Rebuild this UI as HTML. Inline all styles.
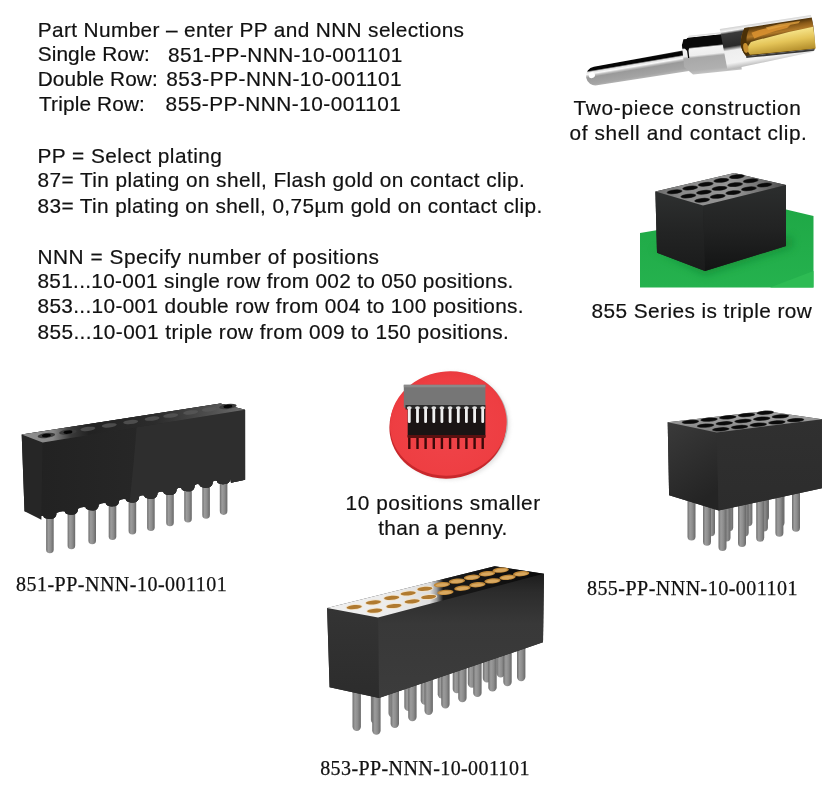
<!DOCTYPE html>
<html><head><meta charset="utf-8"><style>
html,body{margin:0;padding:0;background:#fff;}
svg{display:block;}
</style></head><body>
<svg width="840" height="788" viewBox="0 0 840 788">
<defs>
<linearGradient id="rodG" x1="0" y1="0" x2="0" y2="1">
<stop offset="0" stop-color="#3a3a3a"/><stop offset="0.06" stop-color="#050505"/>
<stop offset="0.2" stop-color="#050505"/><stop offset="0.27" stop-color="#e0e0e0"/>
<stop offset="0.36" stop-color="#fafafa"/><stop offset="0.44" stop-color="#c0c0c0"/>
<stop offset="0.52" stop-color="#9a9a9a"/><stop offset="0.85" stop-color="#a4a4a4"/>
<stop offset="1" stop-color="#b8b8b8"/></linearGradient>
<linearGradient id="colG" x1="0" y1="0" x2="0" y2="1">
<stop offset="0" stop-color="#d8d8d8"/><stop offset="0.04" stop-color="#eeeeee"/>
<stop offset="0.06" stop-color="#0a0a0a"/><stop offset="0.3" stop-color="#0a0a0a"/>
<stop offset="0.34" stop-color="#f4f4f4"/><stop offset="0.52" stop-color="#eeeeee"/>
<stop offset="0.58" stop-color="#a8a8a8"/><stop offset="0.9" stop-color="#b0b0b0"/>
<stop offset="1" stop-color="#c4c4c4"/></linearGradient>
<linearGradient id="shellG" x1="0" y1="0" x2="0" y2="1">
<stop offset="0" stop-color="#d0d0d0"/><stop offset="0.08" stop-color="#f2f2f2"/>
<stop offset="0.14" stop-color="#3a3a3a"/><stop offset="0.45" stop-color="#2a2a2a"/>
<stop offset="0.55" stop-color="#eeeeee"/><stop offset="0.85" stop-color="#f2f2f2"/>
<stop offset="1" stop-color="#b4b4b4"/></linearGradient>
<linearGradient id="goldG" x1="0" y1="0" x2="0" y2="1">
<stop offset="0" stop-color="#4a300a"/><stop offset="0.15" stop-color="#8a5a18"/>
<stop offset="0.3" stop-color="#b07828"/><stop offset="0.45" stop-color="#5a3c0c"/>
<stop offset="1" stop-color="#3a2808"/></linearGradient>
<linearGradient id="tongueG" x1="0" y1="0" x2="0" y2="1">
<stop offset="0" stop-color="#f6e48a"/><stop offset="0.45" stop-color="#e4c458"/>
<stop offset="1" stop-color="#b08a28"/></linearGradient>
<linearGradient id="greenB" x1="0" y1="0" x2="0" y2="1">
<stop offset="0" stop-color="#1fa846"/><stop offset="1" stop-color="#25b24e"/></linearGradient>
<linearGradient id="blkFront" x1="0" y1="0" x2="0" y2="1">
<stop offset="0" stop-color="#2c2e2e"/><stop offset="0.5" stop-color="#222323"/><stop offset="1" stop-color="#131414"/></linearGradient>
<linearGradient id="blkLeft" x1="0" y1="0" x2="0" y2="1">
<stop offset="0" stop-color="#2e3030"/><stop offset="0.5" stop-color="#232424"/><stop offset="1" stop-color="#1a1b1b"/></linearGradient>
<linearGradient id="topB" x1="0" y1="0" x2="1" y2="0">
<stop offset="0" stop-color="#6a6a6a"/><stop offset="0.2" stop-color="#8a8a8a"/><stop offset="0.6" stop-color="#969696"/><stop offset="0.82" stop-color="#707070"/><stop offset="1" stop-color="#4a4a4a"/></linearGradient>
<filter id="blur4" x="-30%" y="-30%" width="160%" height="160%"><feGaussianBlur stdDeviation="4"/></filter>
<linearGradient id="pinG" x1="0" y1="0" x2="1" y2="0">
<stop offset="0" stop-color="#6e6e6e"/><stop offset="0.3" stop-color="#9c9c9c"/>
<stop offset="0.6" stop-color="#8e8e8e"/><stop offset="1" stop-color="#686868"/></linearGradient>
<linearGradient id="f851" x1="0" y1="0" x2="1" y2="0">
<stop offset="0" stop-color="#222222"/><stop offset="1" stop-color="#2c2c2c"/></linearGradient>
<linearGradient id="top851" x1="0" y1="0" x2="1" y2="0">
<stop offset="0" stop-color="#8e8e8e"/><stop offset="0.14" stop-color="#888888"/><stop offset="0.22" stop-color="#3a3a3a"/><stop offset="0.3" stop-color="#222222"/><stop offset="0.6" stop-color="#2c2c2c"/><stop offset="0.85" stop-color="#505050"/><stop offset="1" stop-color="#6e6e6e"/></linearGradient>
<clipPath id="c851"><path d="M42.6,442.4 L245.1,409.8 L245.1,479.7 L231,482.7 L230.2,478.3 C230.2,483.1 227.1,484.2 223.6,484.2 C220.1,484.2 217.0,483.1 217.0,480.9 Q214.8,479.9 212.7,481.8 C212.7,486.6 209.6,487.7 206.1,487.7 C202.6,487.7 199.5,486.6 199.5,484.4 Q197.1,483.4 194.6,485.4 C194.6,490.2 191.5,491.3 188.0,491.3 C184.5,491.3 181.4,490.2 181.4,488.1 Q179.0,487.0 176.6,489.0 C176.6,493.8 173.5,494.9 170.0,494.9 C166.5,494.9 163.4,493.8 163.4,491.7 Q160.4,490.7 157.5,492.8 C157.5,497.7 154.4,498.8 150.9,498.8 C147.4,498.8 144.3,497.7 144.3,495.5 Q141.7,494.5 139.0,496.5 C139.0,501.4 135.9,502.5 132.4,502.5 C128.9,502.5 125.8,501.4 125.8,499.2 Q122.5,498.3 119.1,500.5 C119.1,505.3 116.0,506.4 112.5,506.4 C109.0,506.4 105.9,505.3 105.9,503.2 Q102.3,502.4 98.8,504.6 C98.8,509.4 95.7,510.5 92.2,510.5 C88.7,510.5 85.6,509.4 85.6,507.2 Q81.8,506.5 78.0,508.7 C78.0,513.6 74.9,514.7 71.4,514.7 C67.9,514.7 64.8,513.6 64.8,511.4 Q60.7,510.7 56.5,513.0 C56.5,517.9 53.4,519.0 49.9,519.0 C46.4,519.0 43.3,517.9 43.3,515.7 L41.4,516.1 Z"/></clipPath>
<radialGradient id="coin" cx="0.5" cy="0.55" r="0.6">
<stop offset="0" stop-color="#f0444a"/><stop offset="0.8" stop-color="#ee3e42"/><stop offset="1" stop-color="#e8383c"/></radialGradient>
<filter id="blur2" x="-20%" y="-20%" width="140%" height="140%"><feGaussianBlur stdDeviation="2"/></filter>
<linearGradient id="eLeft" x1="0" y1="0" x2="0.4" y2="1">
<stop offset="0" stop-color="#3a3a3a"/><stop offset="1" stop-color="#242424"/></linearGradient>
<linearGradient id="eFront" x1="0" y1="0" x2="0" y2="1">
<stop offset="0" stop-color="#303030"/><stop offset="1" stop-color="#2c2c2c"/></linearGradient>
<linearGradient id="eTop" x1="0" y1="1" x2="0" y2="0">
<stop offset="0" stop-color="#7c7c7c"/><stop offset="0.5" stop-color="#989898"/><stop offset="1" stop-color="#a6a6a6"/></linearGradient>
<linearGradient id="fTop" x1="0" y1="0" x2="1" y2="0">
<stop offset="0" stop-color="#f0f0f0"/><stop offset="0.3" stop-color="#ececec"/>
<stop offset="0.475" stop-color="#dedede"/><stop offset="0.505" stop-color="#9a9a9a"/>
<stop offset="0.535" stop-color="#1a1a1a"/><stop offset="1" stop-color="#0a0a0a"/></linearGradient>
<linearGradient id="fFront" x1="0" y1="0" x2="0" y2="1">
<stop offset="0" stop-color="#1c1c1c"/><stop offset="0.15" stop-color="#2c2c2c"/><stop offset="0.4" stop-color="#383838"/><stop offset="1" stop-color="#3c3c3c"/></linearGradient>
<linearGradient id="fLeft" x1="0" y1="0" x2="0" y2="1">
<stop offset="0" stop-color="#343434"/><stop offset="1" stop-color="#2c2c2c"/></linearGradient>
<radialGradient id="goldHole" cx="0.5" cy="0.5" r="0.5">
<stop offset="0" stop-color="#b87830"/><stop offset="0.75" stop-color="#c88a40"/><stop offset="1" stop-color="#e8c090"/></radialGradient>
</defs>
<g transform="translate(595.5,76) rotate(-9.6)">
<path d="M0,-9.5 L93,-10.6 L93,10.6 L0,9.5 A9.5,9.5 0 0 1 0,-9.5 Z" fill="url(#rodG)"/>
<ellipse cx="-3.5" cy="-1.5" rx="3.2" ry="3" fill="#ffffff"/>
</g>
<g transform="translate(692,55) rotate(-6)">
<path d="M-9,-11 L-1,-19.5 L48,-19.5 L48,19.5 L-1,19.5 L-9,11 Z" fill="url(#colG)"/>
<path d="M-9,-10.5 L-6.9,-16.5 L2.9,-16.4 L-2,-8 L-3,-4.5 L-3,2.6 L-4.2,2.6 L-4.5,-4.5 L-7,-8 Z" fill="#0a0a0a"/>
</g>
<g transform="translate(723.4,47.5) rotate(-9.2)">
<path d="M-0.6,-18.8 L91.7,-18.1 Q93.8,0 88,18.6 L84.7,18.8 L0.45,22.9 Z" fill="url(#shellG)"/>
<path d="M24,-15.8 L92,-15.5 Q93,0 90,16 Q60,14.5 21,12 Q13,0 24,-15.8 Z" fill="url(#goldG)"/>
<path d="M24,-15.8 Q13,0 21,12 L27,12.3 Q19,0 29,-15.5 Z" fill="#4a3008"/>
<path d="M30,-10 Q50,-14 70,-12 L66,-9 Q48,-8 32,-4 Z" fill="#d89030" opacity="0.9"/>
<path d="M45,-13 Q62,-15 80,-14 L78,-12 Q62,-12 47,-10 Z" fill="#e0a040" opacity="0.8"/>
<path d="M28,-1 Q60,-5 92,-6 L91,15.8 Q60,14 25,11.5 Q21,5 28,-1 Z" fill="url(#tongueG)"/>
<ellipse cx="22" cy="4" rx="2.5" ry="5" fill="#c89030"/>
<path d="M21,12 Q60,14.5 90,16 L89,17.6 Q60,16.5 21,14 Z" fill="#3a3a3a"/>
</g>
<polygon points="640.0,233.0 784.0,209.0 813.5,216.0 813.5,287.5 640.0,287.5" fill="url(#greenB)"/>
<polygon points="770.0,287.5 813.5,271.0 813.5,287.5" fill="#2dbb53"/>
<polygon points="652.0,248.0 705.0,275.0 792.0,247.0 792.0,236.0 705.0,262.0" fill="#0e7a2c" opacity="0.55" filter="url(#blur4)"/>
<polygon points="655.4,191.4 734.3,173.0 786.0,185.0 786.0,246.0 705.0,271.0 657.0,252.7" fill="#1e1f1f"/>
<polygon points="655.4,191.4 703.0,205.5 705.0,271.0 657.0,252.7" fill="url(#blkLeft)"/>
<polygon points="703.0,205.5 786.0,185.0 786.0,246.0 705.0,271.0" fill="url(#blkFront)"/>
<polygon points="655.4,191.4 734.3,173.0 786.0,185.0 703.0,205.5" fill="url(#topB)"/>
<ellipse cx="674.5" cy="191.8" rx="8.0" ry="2.3" transform="rotate(-6 674.5 191.8)" fill="#3a3a3a"/>
<ellipse cx="690.1" cy="188.0" rx="8.0" ry="2.3" transform="rotate(-6 690.1 188.0)" fill="#3a3a3a"/>
<ellipse cx="705.7" cy="184.2" rx="8.0" ry="2.3" transform="rotate(-6 705.7 184.2)" fill="#3a3a3a"/>
<ellipse cx="721.3" cy="180.4" rx="8.0" ry="2.3" transform="rotate(-6 721.3 180.4)" fill="#3a3a3a"/>
<ellipse cx="736.9" cy="176.6" rx="8.0" ry="2.3" transform="rotate(-6 736.9 176.6)" fill="#3a3a3a"/>
<ellipse cx="688.3" cy="196.0" rx="8.0" ry="2.3" transform="rotate(-6 688.3 196.0)" fill="#3a3a3a"/>
<ellipse cx="703.9" cy="192.2" rx="8.0" ry="2.3" transform="rotate(-6 703.9 192.2)" fill="#3a3a3a"/>
<ellipse cx="719.5" cy="188.4" rx="8.0" ry="2.3" transform="rotate(-6 719.5 188.4)" fill="#3a3a3a"/>
<ellipse cx="735.1" cy="184.6" rx="8.0" ry="2.3" transform="rotate(-6 735.1 184.6)" fill="#3a3a3a"/>
<ellipse cx="750.7" cy="180.8" rx="8.0" ry="2.3" transform="rotate(-6 750.7 180.8)" fill="#3a3a3a"/>
<ellipse cx="702.1" cy="200.2" rx="8.0" ry="2.3" transform="rotate(-6 702.1 200.2)" fill="#3a3a3a"/>
<ellipse cx="717.7" cy="196.4" rx="8.0" ry="2.3" transform="rotate(-6 717.7 196.4)" fill="#3a3a3a"/>
<ellipse cx="733.3" cy="192.6" rx="8.0" ry="2.3" transform="rotate(-6 733.3 192.6)" fill="#3a3a3a"/>
<ellipse cx="748.9" cy="188.8" rx="8.0" ry="2.3" transform="rotate(-6 748.9 188.8)" fill="#3a3a3a"/>
<ellipse cx="764.5" cy="185.0" rx="8.0" ry="2.3" transform="rotate(-6 764.5 185.0)" fill="#3a3a3a"/>
<ellipse cx="674.5" cy="191.8" rx="7.2" ry="1.8" transform="rotate(-6 674.5 191.8)" fill="#0a0a0a"/>
<ellipse cx="690.1" cy="188.0" rx="7.2" ry="1.8" transform="rotate(-6 690.1 188.0)" fill="#0a0a0a"/>
<ellipse cx="705.7" cy="184.2" rx="7.2" ry="1.8" transform="rotate(-6 705.7 184.2)" fill="#0a0a0a"/>
<ellipse cx="721.3" cy="180.4" rx="7.2" ry="1.8" transform="rotate(-6 721.3 180.4)" fill="#0a0a0a"/>
<ellipse cx="736.9" cy="176.6" rx="7.2" ry="1.8" transform="rotate(-6 736.9 176.6)" fill="#0a0a0a"/>
<ellipse cx="688.3" cy="196.0" rx="7.2" ry="1.8" transform="rotate(-6 688.3 196.0)" fill="#0a0a0a"/>
<ellipse cx="703.9" cy="192.2" rx="7.2" ry="1.8" transform="rotate(-6 703.9 192.2)" fill="#0a0a0a"/>
<ellipse cx="719.5" cy="188.4" rx="7.2" ry="1.8" transform="rotate(-6 719.5 188.4)" fill="#0a0a0a"/>
<ellipse cx="735.1" cy="184.6" rx="7.2" ry="1.8" transform="rotate(-6 735.1 184.6)" fill="#0a0a0a"/>
<ellipse cx="750.7" cy="180.8" rx="7.2" ry="1.8" transform="rotate(-6 750.7 180.8)" fill="#0a0a0a"/>
<ellipse cx="702.1" cy="200.2" rx="7.2" ry="1.8" transform="rotate(-6 702.1 200.2)" fill="#0a0a0a"/>
<ellipse cx="717.7" cy="196.4" rx="7.2" ry="1.8" transform="rotate(-6 717.7 196.4)" fill="#0a0a0a"/>
<ellipse cx="733.3" cy="192.6" rx="7.2" ry="1.8" transform="rotate(-6 733.3 192.6)" fill="#0a0a0a"/>
<ellipse cx="748.9" cy="188.8" rx="7.2" ry="1.8" transform="rotate(-6 748.9 188.8)" fill="#0a0a0a"/>
<ellipse cx="764.5" cy="185.0" rx="7.2" ry="1.8" transform="rotate(-6 764.5 185.0)" fill="#0a0a0a"/>
<path d="M46.1,493.3 L53.7,493.3 L53.7,549.5 A3.8,3.8 0 0 1 46.1,549.5 Z" fill="url(#pinG)"/>
<path d="M67.6,489.2 L75.2,489.2 L75.2,545.4 A3.8,3.8 0 0 1 67.6,545.4 Z" fill="url(#pinG)"/>
<path d="M88.4,484.2 L96.0,484.2 L96.0,540.4 A3.8,3.8 0 0 1 88.4,540.4 Z" fill="url(#pinG)"/>
<path d="M108.7,480.1 L116.3,480.1 L116.3,536.3 A3.8,3.8 0 0 1 108.7,536.3 Z" fill="url(#pinG)"/>
<path d="M128.6,474.5 L136.2,474.5 L136.2,530.7 A3.8,3.8 0 0 1 128.6,530.7 Z" fill="url(#pinG)"/>
<path d="M147.1,471.0 L154.7,471.0 L154.7,527.2 A3.8,3.8 0 0 1 147.1,527.2 Z" fill="url(#pinG)"/>
<path d="M166.2,466.3 L173.8,466.3 L173.8,522.5 A3.8,3.8 0 0 1 166.2,522.5 Z" fill="url(#pinG)"/>
<path d="M184.2,462.5 L191.8,462.5 L191.8,518.7 A3.8,3.8 0 0 1 184.2,518.7 Z" fill="url(#pinG)"/>
<path d="M202.3,458.7 L209.9,458.7 L209.9,514.9 A3.8,3.8 0 0 1 202.3,514.9 Z" fill="url(#pinG)"/>
<path d="M219.8,454.9 L227.4,454.9 L227.4,511.1 A3.8,3.8 0 0 1 219.8,511.1 Z" fill="url(#pinG)"/>
<path d="M21.7,434.5 L220.4,403.6 L245.1,409.8 L245.1,479.7 L231,482.7 L230.2,478.3 C230.2,483.1 227.1,484.2 223.6,484.2 C220.1,484.2 217.0,483.1 217.0,480.9 Q214.8,479.9 212.7,481.8 C212.7,486.6 209.6,487.7 206.1,487.7 C202.6,487.7 199.5,486.6 199.5,484.4 Q197.1,483.4 194.6,485.4 C194.6,490.2 191.5,491.3 188.0,491.3 C184.5,491.3 181.4,490.2 181.4,488.1 Q179.0,487.0 176.6,489.0 C176.6,493.8 173.5,494.9 170.0,494.9 C166.5,494.9 163.4,493.8 163.4,491.7 Q160.4,490.7 157.5,492.8 C157.5,497.7 154.4,498.8 150.9,498.8 C147.4,498.8 144.3,497.7 144.3,495.5 Q141.7,494.5 139.0,496.5 C139.0,501.4 135.9,502.5 132.4,502.5 C128.9,502.5 125.8,501.4 125.8,499.2 Q122.5,498.3 119.1,500.5 C119.1,505.3 116.0,506.4 112.5,506.4 C109.0,506.4 105.9,505.3 105.9,503.2 Q102.3,502.4 98.8,504.6 C98.8,509.4 95.7,510.5 92.2,510.5 C88.7,510.5 85.6,509.4 85.6,507.2 Q81.8,506.5 78.0,508.7 C78.0,513.6 74.9,514.7 71.4,514.7 C67.9,514.7 64.8,513.6 64.8,511.4 Q60.7,510.7 56.5,513.0 C56.5,517.9 53.4,519.0 49.9,519.0 C46.4,519.0 43.3,517.9 43.3,515.7 L41.4,516.1 L24.5,511.2 Z" fill="#232323"/>
<path d="M42.6,442.4 L245.1,409.8 L245.1,479.7 L231,482.7 L230.2,478.3 C230.2,483.1 227.1,484.2 223.6,484.2 C220.1,484.2 217.0,483.1 217.0,480.9 Q214.8,479.9 212.7,481.8 C212.7,486.6 209.6,487.7 206.1,487.7 C202.6,487.7 199.5,486.6 199.5,484.4 Q197.1,483.4 194.6,485.4 C194.6,490.2 191.5,491.3 188.0,491.3 C184.5,491.3 181.4,490.2 181.4,488.1 Q179.0,487.0 176.6,489.0 C176.6,493.8 173.5,494.9 170.0,494.9 C166.5,494.9 163.4,493.8 163.4,491.7 Q160.4,490.7 157.5,492.8 C157.5,497.7 154.4,498.8 150.9,498.8 C147.4,498.8 144.3,497.7 144.3,495.5 Q141.7,494.5 139.0,496.5 C139.0,501.4 135.9,502.5 132.4,502.5 C128.9,502.5 125.8,501.4 125.8,499.2 Q122.5,498.3 119.1,500.5 C119.1,505.3 116.0,506.4 112.5,506.4 C109.0,506.4 105.9,505.3 105.9,503.2 Q102.3,502.4 98.8,504.6 C98.8,509.4 95.7,510.5 92.2,510.5 C88.7,510.5 85.6,509.4 85.6,507.2 Q81.8,506.5 78.0,508.7 C78.0,513.6 74.9,514.7 71.4,514.7 C67.9,514.7 64.8,513.6 64.8,511.4 Q60.7,510.7 56.5,513.0 C56.5,517.9 53.4,519.0 49.9,519.0 C46.4,519.0 43.3,517.9 43.3,515.7 L41.4,516.1 Z" fill="url(#f851)"/>
<polygon points="21.7,434.5 220.4,403.6 245.1,409.8 42.6,442.4" fill="#2a2a2a"/>
<polygon points="21.7,434.5 42.6,442.4 41.4,519.7 24.5,511.2" fill="#262626"/>
<polygon points="137.0,422.5 245.1,409.8 246.0,479.7 246.0,490.0 129.0,525.0 130.0,498.0 134.0,458.0" fill="#2e2e2e" clip-path="url(#c851)"/>
<polygon points="21.7,434.5 220.4,403.6 245.1,409.8 42.6,442.4" fill="url(#top851)"/>
<ellipse cx="46.4" cy="435.5" rx="8.8" ry="2.5" transform="rotate(-6 46.4 435.5)" fill="#3c3c3c"/>
<ellipse cx="46.4" cy="435.5" rx="4.5" ry="1.7" transform="rotate(-6 46.4 435.5)" fill="#050505"/>
<ellipse cx="67.9" cy="432.1" rx="8.8" ry="2.5" transform="rotate(-6 67.9 432.1)" fill="#3c3c3c"/>
<ellipse cx="67.9" cy="432.1" rx="4.5" ry="1.7" transform="rotate(-6 67.9 432.1)" fill="#050505"/>
<ellipse cx="87.9" cy="428.9" rx="7.5" ry="2.1" transform="rotate(-6 87.9 428.9)" fill="#5a5a5a" opacity="0.75"/>
<ellipse cx="109.3" cy="425.4" rx="7.5" ry="2.1" transform="rotate(-6 109.3 425.4)" fill="#5a5a5a" opacity="0.75"/>
<ellipse cx="130.7" cy="422.0" rx="7.5" ry="2.1" transform="rotate(-6 130.7 422.0)" fill="#5a5a5a" opacity="0.75"/>
<ellipse cx="152.1" cy="418.6" rx="7.5" ry="2.1" transform="rotate(-6 152.1 418.6)" fill="#5a5a5a" opacity="0.75"/>
<ellipse cx="170.7" cy="415.6" rx="7.5" ry="2.1" transform="rotate(-6 170.7 415.6)" fill="#5a5a5a" opacity="0.75"/>
<ellipse cx="190.7" cy="412.4" rx="7.5" ry="2.1" transform="rotate(-6 190.7 412.4)" fill="#5a5a5a" opacity="0.75"/>
<ellipse cx="209.3" cy="409.4" rx="7.5" ry="2.1" transform="rotate(-6 209.3 409.4)" fill="#5a5a5a" opacity="0.75"/>
<ellipse cx="227.9" cy="406.5" rx="8.8" ry="2.5" transform="rotate(-6 227.9 406.5)" fill="#3c3c3c"/>
<ellipse cx="227.9" cy="406.5" rx="4.5" ry="1.7" transform="rotate(-6 227.9 406.5)" fill="#050505"/>
<ellipse cx="451" cy="426" rx="58" ry="53" transform="rotate(-8 451 426)" fill="#a0a0a0" opacity="0.35" filter="url(#blur2)"/>
<ellipse cx="449.5" cy="424.5" rx="58.5" ry="52.5" transform="rotate(-8 449.5 424.5)" fill="#b8b8b8"/>
<ellipse cx="447.8" cy="426" rx="58.5" ry="52.5" transform="rotate(-8 447.8 426)" fill="#c8282c"/>
<ellipse cx="448.3" cy="423.5" rx="58.5" ry="52" transform="rotate(-8 448.3 423.5)" fill="url(#coin)"/>
<rect x="403.8" y="384.8" width="81.6" height="22.8" fill="#767676"/>
<rect x="403.8" y="384.8" width="81.6" height="2.5" fill="#8a8a8a"/>
<rect x="405.5" y="405" width="79.9" height="4.5" fill="#2a2a2a"/>
<rect x="407.7" y="409" width="77.7" height="28" fill="#1a1414"/>
<rect x="407.7" y="435" width="77.7" height="3" fill="#5a1010"/>
<rect x="408.1" y="438" width="2.4" height="11" fill="#3a0808"/>
<rect x="407.9" y="407.5" width="2.8" height="15.5" rx="1.2" fill="#f0f0f0"/>
<ellipse cx="409.3" cy="407.8" rx="2.4" ry="1.5" fill="#e0e0e0"/>
<rect x="416.3" y="438" width="2.4" height="11" fill="#3a0808"/>
<rect x="416.1" y="407.5" width="2.8" height="15.5" rx="1.2" fill="#f0f0f0"/>
<ellipse cx="417.5" cy="407.8" rx="2.4" ry="1.5" fill="#e0e0e0"/>
<rect x="424.4" y="438" width="2.4" height="11" fill="#3a0808"/>
<rect x="424.2" y="407.5" width="2.8" height="15.5" rx="1.2" fill="#f0f0f0"/>
<ellipse cx="425.6" cy="407.8" rx="2.4" ry="1.5" fill="#e0e0e0"/>
<rect x="432.6" y="438" width="2.4" height="11" fill="#3a0808"/>
<rect x="432.4" y="407.5" width="2.8" height="15.5" rx="1.2" fill="#f0f0f0"/>
<ellipse cx="433.8" cy="407.8" rx="2.4" ry="1.5" fill="#e0e0e0"/>
<rect x="440.7" y="438" width="2.4" height="11" fill="#3a0808"/>
<rect x="440.5" y="407.5" width="2.8" height="15.5" rx="1.2" fill="#f0f0f0"/>
<ellipse cx="441.9" cy="407.8" rx="2.4" ry="1.5" fill="#e0e0e0"/>
<rect x="448.9" y="438" width="2.4" height="11" fill="#3a0808"/>
<rect x="448.7" y="407.5" width="2.8" height="15.5" rx="1.2" fill="#f0f0f0"/>
<ellipse cx="450.1" cy="407.8" rx="2.4" ry="1.5" fill="#e0e0e0"/>
<rect x="457.1" y="438" width="2.4" height="11" fill="#3a0808"/>
<rect x="456.9" y="407.5" width="2.8" height="15.5" rx="1.2" fill="#f0f0f0"/>
<ellipse cx="458.3" cy="407.8" rx="2.4" ry="1.5" fill="#e0e0e0"/>
<rect x="465.2" y="438" width="2.4" height="11" fill="#3a0808"/>
<rect x="465.0" y="407.5" width="2.8" height="15.5" rx="1.2" fill="#f0f0f0"/>
<ellipse cx="466.4" cy="407.8" rx="2.4" ry="1.5" fill="#e0e0e0"/>
<rect x="473.4" y="438" width="2.4" height="11" fill="#3a0808"/>
<rect x="473.2" y="407.5" width="2.8" height="15.5" rx="1.2" fill="#f0f0f0"/>
<ellipse cx="474.6" cy="407.8" rx="2.4" ry="1.5" fill="#e0e0e0"/>
<rect x="481.5" y="438" width="2.4" height="11" fill="#3a0808"/>
<rect x="481.3" y="407.5" width="2.8" height="15.5" rx="1.2" fill="#f0f0f0"/>
<ellipse cx="482.7" cy="407.8" rx="2.4" ry="1.5" fill="#e0e0e0"/>
<path d="M687.5,480.4 L695.5,480.4 L695.5,536.4 A4.0,4.0 0 0 1 687.5,536.4 Z" fill="url(#pinG)"/>
<path d="M707.0,476.3 L715.0,476.3 L715.0,532.3 A4.0,4.0 0 0 1 707.0,532.3 Z" fill="url(#pinG)"/>
<path d="M725.2,471.2 L733.2,471.2 L733.2,527.2 A4.0,4.0 0 0 1 725.2,527.2 Z" fill="url(#pinG)"/>
<path d="M744.4,466.2 L752.4,466.2 L752.4,522.2 A4.0,4.0 0 0 1 744.4,522.2 Z" fill="url(#pinG)"/>
<path d="M761.0,461.1 L769.0,461.1 L769.0,517.1 A4.0,4.0 0 0 1 761.0,517.1 Z" fill="url(#pinG)"/>
<path d="M703.0,485.7 L711.0,485.7 L711.0,541.7 A4.0,4.0 0 0 1 703.0,541.7 Z" fill="url(#pinG)"/>
<path d="M722.5,481.6 L730.5,481.6 L730.5,537.6 A4.0,4.0 0 0 1 722.5,537.6 Z" fill="url(#pinG)"/>
<path d="M740.7,476.5 L748.7,476.5 L748.7,532.5 A4.0,4.0 0 0 1 740.7,532.5 Z" fill="url(#pinG)"/>
<path d="M759.9,471.5 L767.9,471.5 L767.9,527.5 A4.0,4.0 0 0 1 759.9,527.5 Z" fill="url(#pinG)"/>
<path d="M776.5,466.4 L784.5,466.4 L784.5,522.4 A4.0,4.0 0 0 1 776.5,522.4 Z" fill="url(#pinG)"/>
<path d="M718.5,491.0 L726.5,491.0 L726.5,547.0 A4.0,4.0 0 0 1 718.5,547.0 Z" fill="url(#pinG)"/>
<path d="M738.0,486.9 L746.0,486.9 L746.0,542.9 A4.0,4.0 0 0 1 738.0,542.9 Z" fill="url(#pinG)"/>
<path d="M756.2,481.8 L764.2,481.8 L764.2,537.8 A4.0,4.0 0 0 1 756.2,537.8 Z" fill="url(#pinG)"/>
<path d="M775.4,476.8 L783.4,476.8 L783.4,532.8 A4.0,4.0 0 0 1 775.4,532.8 Z" fill="url(#pinG)"/>
<path d="M792.0,471.7 L800.0,471.7 L800.0,527.7 A4.0,4.0 0 0 1 792.0,527.7 Z" fill="url(#pinG)"/>
<polygon points="667.7,422.3 765.2,411.1 821.9,419.2 821.9,488.2 718.7,510.5 669.1,495.3" fill="#2c2c2c"/>
<polygon points="667.7,422.3 716.7,432.4 718.7,510.5 669.1,495.3" fill="url(#eLeft)"/>
<polygon points="716.7,432.4 821.9,419.2 821.9,488.2 718.7,510.5" fill="url(#eFront)"/>
<polygon points="667.7,422.3 765.2,411.1 821.9,419.2 716.7,432.4" fill="url(#eTop)"/>
<ellipse cx="690.4" cy="421.9" rx="8.8" ry="2.1" transform="rotate(-4 690.4 421.9)" fill="#3a3a3a"/>
<ellipse cx="709.1" cy="419.6" rx="8.8" ry="2.1" transform="rotate(-4 709.1 419.6)" fill="#3a3a3a"/>
<ellipse cx="727.8" cy="417.3" rx="8.8" ry="2.1" transform="rotate(-4 727.8 417.3)" fill="#3a3a3a"/>
<ellipse cx="746.5" cy="415.0" rx="8.8" ry="2.1" transform="rotate(-4 746.5 415.0)" fill="#3a3a3a"/>
<ellipse cx="765.2" cy="412.7" rx="8.8" ry="2.1" transform="rotate(-4 765.2 412.7)" fill="#3a3a3a"/>
<ellipse cx="705.6" cy="425.6" rx="8.8" ry="2.1" transform="rotate(-4 705.6 425.6)" fill="#3a3a3a"/>
<ellipse cx="724.3" cy="423.3" rx="8.8" ry="2.1" transform="rotate(-4 724.3 423.3)" fill="#3a3a3a"/>
<ellipse cx="743.0" cy="421.0" rx="8.8" ry="2.1" transform="rotate(-4 743.0 421.0)" fill="#3a3a3a"/>
<ellipse cx="761.7" cy="418.7" rx="8.8" ry="2.1" transform="rotate(-4 761.7 418.7)" fill="#3a3a3a"/>
<ellipse cx="780.4" cy="416.4" rx="8.8" ry="2.1" transform="rotate(-4 780.4 416.4)" fill="#3a3a3a"/>
<ellipse cx="720.8" cy="429.3" rx="8.8" ry="2.1" transform="rotate(-4 720.8 429.3)" fill="#3a3a3a"/>
<ellipse cx="739.5" cy="427.0" rx="8.8" ry="2.1" transform="rotate(-4 739.5 427.0)" fill="#3a3a3a"/>
<ellipse cx="758.2" cy="424.7" rx="8.8" ry="2.1" transform="rotate(-4 758.2 424.7)" fill="#3a3a3a"/>
<ellipse cx="776.9" cy="422.4" rx="8.8" ry="2.1" transform="rotate(-4 776.9 422.4)" fill="#3a3a3a"/>
<ellipse cx="795.6" cy="420.1" rx="8.8" ry="2.1" transform="rotate(-4 795.6 420.1)" fill="#3a3a3a"/>
<ellipse cx="690.4" cy="421.9" rx="8.1" ry="1.6" transform="rotate(-4 690.4 421.9)" fill="#0a0a0a"/>
<ellipse cx="709.1" cy="419.6" rx="8.1" ry="1.6" transform="rotate(-4 709.1 419.6)" fill="#0a0a0a"/>
<ellipse cx="727.8" cy="417.3" rx="8.1" ry="1.6" transform="rotate(-4 727.8 417.3)" fill="#0a0a0a"/>
<ellipse cx="746.5" cy="415.0" rx="8.1" ry="1.6" transform="rotate(-4 746.5 415.0)" fill="#0a0a0a"/>
<ellipse cx="765.2" cy="412.7" rx="8.1" ry="1.6" transform="rotate(-4 765.2 412.7)" fill="#0a0a0a"/>
<ellipse cx="705.6" cy="425.6" rx="8.1" ry="1.6" transform="rotate(-4 705.6 425.6)" fill="#0a0a0a"/>
<ellipse cx="724.3" cy="423.3" rx="8.1" ry="1.6" transform="rotate(-4 724.3 423.3)" fill="#0a0a0a"/>
<ellipse cx="743.0" cy="421.0" rx="8.1" ry="1.6" transform="rotate(-4 743.0 421.0)" fill="#0a0a0a"/>
<ellipse cx="761.7" cy="418.7" rx="8.1" ry="1.6" transform="rotate(-4 761.7 418.7)" fill="#0a0a0a"/>
<ellipse cx="780.4" cy="416.4" rx="8.1" ry="1.6" transform="rotate(-4 780.4 416.4)" fill="#0a0a0a"/>
<ellipse cx="720.8" cy="429.3" rx="8.1" ry="1.6" transform="rotate(-4 720.8 429.3)" fill="#0a0a0a"/>
<ellipse cx="739.5" cy="427.0" rx="8.1" ry="1.6" transform="rotate(-4 739.5 427.0)" fill="#0a0a0a"/>
<ellipse cx="758.2" cy="424.7" rx="8.1" ry="1.6" transform="rotate(-4 758.2 424.7)" fill="#0a0a0a"/>
<ellipse cx="776.9" cy="422.4" rx="8.1" ry="1.6" transform="rotate(-4 776.9 422.4)" fill="#0a0a0a"/>
<ellipse cx="795.6" cy="420.1" rx="8.1" ry="1.6" transform="rotate(-4 795.6 420.1)" fill="#0a0a0a"/>
<path d="M352.5,657.1 L360.9,657.1 L360.9,726.8 A4.2,4.2 0 0 1 352.5,726.8 Z" fill="url(#pinG)"/>
<path d="M370.9,652.4 L379.3,652.4 L379.3,719.9 A4.2,4.2 0 0 1 370.9,719.9 Z" fill="url(#pinG)"/>
<path d="M388.5,647.8 L396.9,647.8 L396.9,713.2 A4.2,4.2 0 0 1 388.5,713.2 Z" fill="url(#pinG)"/>
<path d="M404.3,643.4 L412.7,643.4 L412.7,706.9 A4.2,4.2 0 0 1 404.3,706.9 Z" fill="url(#pinG)"/>
<path d="M420.7,638.8 L429.1,638.8 L429.1,700.5 A4.2,4.2 0 0 1 420.7,700.5 Z" fill="url(#pinG)"/>
<path d="M437.7,634.6 L446.1,634.6 L446.1,694.3 A4.2,4.2 0 0 1 437.7,694.3 Z" fill="url(#pinG)"/>
<path d="M452.7,631.1 L461.1,631.1 L461.1,689.1 A4.2,4.2 0 0 1 452.7,689.1 Z" fill="url(#pinG)"/>
<path d="M467.8,627.3 L476.2,627.3 L476.2,683.6 A4.2,4.2 0 0 1 467.8,683.6 Z" fill="url(#pinG)"/>
<path d="M482.8,623.7 L491.2,623.7 L491.2,678.3 A4.2,4.2 0 0 1 482.8,678.3 Z" fill="url(#pinG)"/>
<path d="M496.5,620.1 L504.9,620.1 L504.9,673.2 A4.2,4.2 0 0 1 496.5,673.2 Z" fill="url(#pinG)"/>
<path d="M372.2,660.7 L380.6,660.7 L380.6,730.5 A4.2,4.2 0 0 1 372.2,730.5 Z" fill="url(#pinG)"/>
<path d="M390.6,656.0 L399.0,656.0 L399.0,723.7 A4.2,4.2 0 0 1 390.6,723.7 Z" fill="url(#pinG)"/>
<path d="M408.2,651.4 L416.6,651.4 L416.6,717.0 A4.2,4.2 0 0 1 408.2,717.0 Z" fill="url(#pinG)"/>
<path d="M424.5,647.0 L432.9,647.0 L432.9,710.7 A4.2,4.2 0 0 1 424.5,710.7 Z" fill="url(#pinG)"/>
<path d="M441.2,642.4 L449.6,642.4 L449.6,704.2 A4.2,4.2 0 0 1 441.2,704.2 Z" fill="url(#pinG)"/>
<path d="M458.2,638.2 L466.6,638.2 L466.6,698.1 A4.2,4.2 0 0 1 458.2,698.1 Z" fill="url(#pinG)"/>
<path d="M473.2,634.7 L481.6,634.7 L481.6,692.9 A4.2,4.2 0 0 1 473.2,692.9 Z" fill="url(#pinG)"/>
<path d="M488.3,630.9 L496.7,630.9 L496.7,687.4 A4.2,4.2 0 0 1 488.3,687.4 Z" fill="url(#pinG)"/>
<path d="M503.3,627.3 L511.7,627.3 L511.7,682.1 A4.2,4.2 0 0 1 503.3,682.1 Z" fill="url(#pinG)"/>
<path d="M517.0,623.7 L525.4,623.7 L525.4,677.0 A4.2,4.2 0 0 1 517.0,677.0 Z" fill="url(#pinG)"/>
<polygon points="327.1,607.9 494.7,566.3 544.0,573.7 543.0,642.3 379.0,698.0 329.6,687.3" fill="#2a2a2a"/>
<polygon points="327.1,607.9 378.0,617.5 379.0,698.0 329.6,687.3" fill="url(#fLeft)"/>
<polygon points="378.0,617.5 544.0,573.7 543.0,642.3 379.0,698.0" fill="url(#fFront)"/>
<polygon points="327.1,607.9 494.7,566.3 544.0,573.7 378.0,617.5" fill="url(#fTop)"/>
<ellipse cx="354.2" cy="607.1" rx="8.6" ry="2.9" transform="rotate(-5 354.2 607.1)" fill="#f2e2c8"/>
<ellipse cx="354.2" cy="607.1" rx="7.6" ry="2.0" transform="rotate(-5 354.2 607.1)" fill="#b07a30"/>
<ellipse cx="374.7" cy="610.7" rx="8.6" ry="2.9" transform="rotate(-5 374.7 610.7)" fill="#f2e2c8"/>
<ellipse cx="374.7" cy="610.7" rx="7.6" ry="2.0" transform="rotate(-5 374.7 610.7)" fill="#b07a30"/>
<ellipse cx="373.4" cy="602.4" rx="8.6" ry="2.9" transform="rotate(-5 373.4 602.4)" fill="#f2e2c8"/>
<ellipse cx="373.4" cy="602.4" rx="7.6" ry="2.0" transform="rotate(-5 373.4 602.4)" fill="#b07a30"/>
<ellipse cx="393.9" cy="606.0" rx="8.6" ry="2.9" transform="rotate(-5 393.9 606.0)" fill="#f2e2c8"/>
<ellipse cx="393.9" cy="606.0" rx="7.6" ry="2.0" transform="rotate(-5 393.9 606.0)" fill="#b07a30"/>
<ellipse cx="391.7" cy="597.8" rx="8.6" ry="2.9" transform="rotate(-5 391.7 597.8)" fill="#f2e2c8"/>
<ellipse cx="391.7" cy="597.8" rx="7.6" ry="2.0" transform="rotate(-5 391.7 597.8)" fill="#b07a30"/>
<ellipse cx="412.2" cy="601.4" rx="8.6" ry="2.9" transform="rotate(-5 412.2 601.4)" fill="#f2e2c8"/>
<ellipse cx="412.2" cy="601.4" rx="7.6" ry="2.0" transform="rotate(-5 412.2 601.4)" fill="#b07a30"/>
<ellipse cx="408.2" cy="593.4" rx="8.6" ry="2.9" transform="rotate(-5 408.2 593.4)" fill="#f2e2c8"/>
<ellipse cx="408.2" cy="593.4" rx="7.6" ry="2.0" transform="rotate(-5 408.2 593.4)" fill="#b07a30"/>
<ellipse cx="428.7" cy="597.0" rx="8.6" ry="2.9" transform="rotate(-5 428.7 597.0)" fill="#f2e2c8"/>
<ellipse cx="428.7" cy="597.0" rx="7.6" ry="2.0" transform="rotate(-5 428.7 597.0)" fill="#b07a30"/>
<ellipse cx="424.9" cy="588.8" rx="8.6" ry="2.9" transform="rotate(-5 424.9 588.8)" fill="#f2e2c8"/>
<ellipse cx="424.9" cy="588.8" rx="7.6" ry="2.0" transform="rotate(-5 424.9 588.8)" fill="#b07a30"/>
<ellipse cx="445.4" cy="592.4" rx="8.2" ry="2.6" transform="rotate(-5 445.4 592.4)" fill="#c08838"/>
<ellipse cx="445.4" cy="592.7" rx="6.5" ry="1.6" transform="rotate(-5 445.4 592.4)" fill="#d8a860"/>
<ellipse cx="441.9" cy="584.6" rx="8.2" ry="2.6" transform="rotate(-5 441.9 584.6)" fill="#c08838"/>
<ellipse cx="441.9" cy="584.9" rx="6.5" ry="1.6" transform="rotate(-5 441.9 584.6)" fill="#d8a860"/>
<ellipse cx="462.4" cy="588.2" rx="8.2" ry="2.6" transform="rotate(-5 462.4 588.2)" fill="#c08838"/>
<ellipse cx="462.4" cy="588.5" rx="6.5" ry="1.6" transform="rotate(-5 462.4 588.2)" fill="#d8a860"/>
<ellipse cx="456.9" cy="581.1" rx="8.2" ry="2.6" transform="rotate(-5 456.9 581.1)" fill="#c08838"/>
<ellipse cx="456.9" cy="581.4" rx="6.5" ry="1.6" transform="rotate(-5 456.9 581.1)" fill="#d8a860"/>
<ellipse cx="477.4" cy="584.7" rx="8.2" ry="2.6" transform="rotate(-5 477.4 584.7)" fill="#c08838"/>
<ellipse cx="477.4" cy="585.0" rx="6.5" ry="1.6" transform="rotate(-5 477.4 584.7)" fill="#d8a860"/>
<ellipse cx="472.0" cy="577.3" rx="8.2" ry="2.6" transform="rotate(-5 472.0 577.3)" fill="#c08838"/>
<ellipse cx="472.0" cy="577.6" rx="6.5" ry="1.6" transform="rotate(-5 472.0 577.3)" fill="#d8a860"/>
<ellipse cx="492.5" cy="580.9" rx="8.2" ry="2.6" transform="rotate(-5 492.5 580.9)" fill="#c08838"/>
<ellipse cx="492.5" cy="581.2" rx="6.5" ry="1.6" transform="rotate(-5 492.5 580.9)" fill="#d8a860"/>
<ellipse cx="487.0" cy="573.7" rx="8.2" ry="2.6" transform="rotate(-5 487.0 573.7)" fill="#c08838"/>
<ellipse cx="487.0" cy="574.0" rx="6.5" ry="1.6" transform="rotate(-5 487.0 573.7)" fill="#d8a860"/>
<ellipse cx="507.5" cy="577.3" rx="8.2" ry="2.6" transform="rotate(-5 507.5 577.3)" fill="#c08838"/>
<ellipse cx="507.5" cy="577.6" rx="6.5" ry="1.6" transform="rotate(-5 507.5 577.3)" fill="#d8a860"/>
<ellipse cx="500.7" cy="570.1" rx="8.2" ry="2.6" transform="rotate(-5 500.7 570.1)" fill="#c08838"/>
<ellipse cx="500.7" cy="570.4" rx="6.5" ry="1.6" transform="rotate(-5 500.7 570.1)" fill="#d8a860"/>
<ellipse cx="521.2" cy="573.7" rx="8.2" ry="2.6" transform="rotate(-5 521.2 573.7)" fill="#c08838"/>
<ellipse cx="521.2" cy="574.0" rx="6.5" ry="1.6" transform="rotate(-5 521.2 573.7)" fill="#d8a860"/>
<g opacity="0.999"><text x="37.80" y="36.50" font-family="Liberation Sans" font-size="20.8" fill="#111111" textLength="426.20" lengthAdjust="spacing" stroke="#111" stroke-width="0.2">Part Number – enter PP and NNN selections</text>
<text x="37.70" y="61.00" font-family="Liberation Sans" font-size="20.8" fill="#111111" textLength="112.20" lengthAdjust="spacing" stroke="#111" stroke-width="0.2">Single Row:</text>
<text x="168.00" y="61.50" font-family="Liberation Sans" font-size="20.8" fill="#111111" textLength="234.30" lengthAdjust="spacing" stroke="#111" stroke-width="0.2">851-PP-NNN-10-001101</text>
<text x="37.70" y="86.00" font-family="Liberation Sans" font-size="20.8" fill="#111111" textLength="120.00" lengthAdjust="spacing" stroke="#111" stroke-width="0.2">Double Row:</text>
<text x="166.20" y="86.00" font-family="Liberation Sans" font-size="20.8" fill="#111111" textLength="235.50" lengthAdjust="spacing" stroke="#111" stroke-width="0.2">853-PP-NNN-10-001101</text>
<text x="39.00" y="111.00" font-family="Liberation Sans" font-size="20.8" fill="#111111" textLength="105.90" lengthAdjust="spacing" stroke="#111" stroke-width="0.2">Triple Row:</text>
<text x="165.60" y="111.20" font-family="Liberation Sans" font-size="20.8" fill="#111111" textLength="235.30" lengthAdjust="spacing" stroke="#111" stroke-width="0.2">855-PP-NNN-10-001101</text>
<text x="37.50" y="162.60" font-family="Liberation Sans" font-size="20.8" fill="#111111" textLength="184.40" lengthAdjust="spacing" stroke="#111" stroke-width="0.2">PP = Select plating</text>
<text x="37.50" y="187.40" font-family="Liberation Sans" font-size="20.8" fill="#111111" textLength="487.40" lengthAdjust="spacing" stroke="#111" stroke-width="0.2">87= Tin plating on shell, Flash gold on contact clip.</text>
<text x="37.50" y="212.50" font-family="Liberation Sans" font-size="20.8" fill="#111111" textLength="504.70" lengthAdjust="spacing" stroke="#111" stroke-width="0.2">83= Tin plating on shell, 0,75µm gold on contact clip.</text>
<text x="37.50" y="263.90" font-family="Liberation Sans" font-size="20.8" fill="#111111" textLength="341.40" lengthAdjust="spacing" stroke="#111" stroke-width="0.2">NNN = Specify number of positions</text>
<text x="37.50" y="288.40" font-family="Liberation Sans" font-size="20.8" fill="#111111" textLength="475.90" lengthAdjust="spacing" stroke="#111" stroke-width="0.2">851...10-001 single row from 002 to 050 positions.</text>
<text x="37.50" y="313.20" font-family="Liberation Sans" font-size="20.8" fill="#111111" textLength="486.10" lengthAdjust="spacing" stroke="#111" stroke-width="0.2">853...10-001 double row from 004 to 100 positions.</text>
<text x="37.50" y="338.50" font-family="Liberation Sans" font-size="20.8" fill="#111111" textLength="471.40" lengthAdjust="spacing" stroke="#111" stroke-width="0.2">855...10-001 triple row from 009 to 150 positions.</text>
<text x="573.60" y="114.80" font-family="Liberation Sans" font-size="20.8" fill="#111111" textLength="227.30" lengthAdjust="spacing" stroke="#111" stroke-width="0.2">Two-piece construction</text>
<text x="569.50" y="139.50" font-family="Liberation Sans" font-size="20.8" fill="#111111" textLength="237.40" lengthAdjust="spacing" stroke="#111" stroke-width="0.2">of shell and contact clip.</text>
<text x="591.60" y="317.90" font-family="Liberation Sans" font-size="20.8" fill="#111111" textLength="220.20" lengthAdjust="spacing" stroke="#111" stroke-width="0.2">855 Series is triple row</text>
<text x="345.50" y="509.90" font-family="Liberation Sans" font-size="20.8" fill="#111111" textLength="194.70" lengthAdjust="spacing" stroke="#111" stroke-width="0.2">10 positions smaller</text>
<text x="378.20" y="534.80" font-family="Liberation Sans" font-size="20.8" fill="#111111" textLength="129.20" lengthAdjust="spacing" stroke="#111" stroke-width="0.2">than a penny.</text>
<text x="16.00" y="591.00" font-family="Liberation Serif" font-size="20" fill="#111111" textLength="210.70" lengthAdjust="spacing" stroke="#111" stroke-width="0.25">851-PP-NNN-10-001101</text>
<text x="586.90" y="594.60" font-family="Liberation Serif" font-size="20" fill="#111111" textLength="210.60" lengthAdjust="spacing" stroke="#111" stroke-width="0.25">855-PP-NNN-10-001101</text>
<text x="320.20" y="774.70" font-family="Liberation Serif" font-size="20" fill="#111111" textLength="209.20" lengthAdjust="spacing" stroke="#111" stroke-width="0.25">853-PP-NNN-10-001101</text></g>
</svg>
</body></html>
